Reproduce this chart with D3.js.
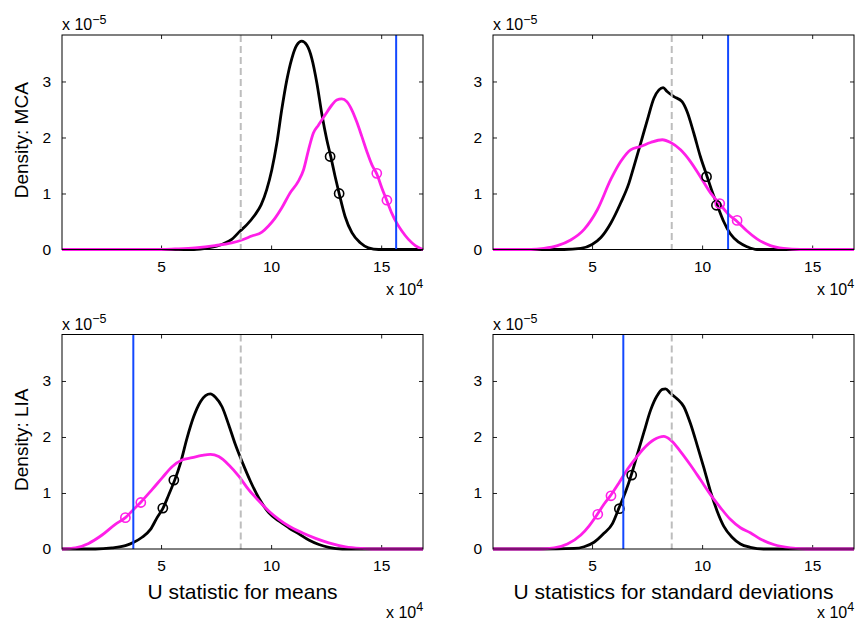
<!DOCTYPE html>
<html>
<head>
<meta charset="utf-8">
<script src="https://cdn.jsdelivr.net/npm/d3@7"></script>
<style>
  body { margin: 0; background: #fff; }
  svg text { font-family: "Liberation Sans", Arial, Helvetica, sans-serif; fill: #000; }
</style>
</head>
<body>
<script>
// values are in units of 1e4 (x) and 1e-5 (y)

var xTicks = [5, 10, 15]
var yTicks = [0, 1, 2, 3]
var xRange = [0.5, 16.9]
var yRange = [0, 3.83]

var yLabels = ['Density: MCA', 'Density: LIA']
var xLabels = ['U statistic for means', 'U statistics for standard deviations']

// null value (gray dashed) and observed value (blue) per panel
var nullValue = [8.62, 8.62, 8.62, 8.62]
var observed = [15.68, 11.18, 3.74, 6.42]

// MCA, means
var mcaMeanBlack = [[0.5,0],[6.5,0],[7.15,0.03],[7.76,0.09],[8.21,0.18],[8.59,0.33],[8.89,0.44],[9.27,0.62],[9.55,0.8],
  [9.8,1.07],[10.03,1.42],[10.26,1.9],[10.48,2.49],[10.71,3.02],[10.94,3.41],[11.17,3.65],[11.39,3.72],
  [11.62,3.65],[11.85,3.41],[12.08,2.97],[12.3,2.43],[12.53,1.96],[12.71,1.66],[12.91,1.3],[13.09,1.0],
  [13.36,0.59],[13.67,0.3],[14.05,0.12],[14.42,0.03],[14.88,0],[16.9,0]]
var mcaMeanPink = [[0.5,0],[5,0],[5.64,0.01],[6.55,0.03],[7.45,0.07],[8.21,0.12],[8.67,0.17],[9.12,0.24],[9.58,0.31],
  [9.88,0.42],[10.18,0.56],[10.48,0.74],[10.86,1.01],[11.24,1.22],[11.47,1.42],[11.7,1.78],[11.92,2.08],
  [12.15,2.22],[12.45,2.4],[12.76,2.58],[12.98,2.67],[13.21,2.69],[13.44,2.64],[13.67,2.49],[13.89,2.28],
  [14.12,2.02],[14.35,1.75],[14.58,1.51],[14.8,1.35],[15.03,1.1],[15.26,0.87],[15.48,0.65],[15.71,0.47],
  [15.94,0.33],[16.24,0.18],[16.55,0.07],[16.9,0]]
var mcaMeanBlackPts = [[12.68,1.66],[13.09,1.0]]
var mcaMeanPinkPts = [[14.8,1.36],[15.26,0.88]]

// MCA, standard deviations
var mcaSdBlack = [[0.5,0],[3.73,0],[4.49,0.02],[5.0,0.09],[5.39,0.21],[5.85,0.47],[6.3,0.83],[6.68,1.19],[6.9,1.48],
  [7.21,1.9],[7.51,2.31],[7.81,2.7],[8.04,2.85],[8.23,2.89],[8.41,2.82],[8.72,2.73],[9.09,2.64],[9.32,2.46],
  [9.62,2.08],[9.92,1.66],[10.23,1.3],[10.45,1.04],[10.68,0.8],[10.98,0.5],[11.28,0.28],[11.66,0.13],
  [12.04,0.05],[12.49,0],[16.9,0]]
var mcaSdPink = [[0.5,0],[2.22,0],[2.82,0.02],[3.43,0.07],[4.03,0.17],[4.64,0.36],[5.24,0.71],[5.85,1.25],[6.3,1.57],
  [6.75,1.78],[7.21,1.84],[7.66,1.91],[8.19,1.96],[8.57,1.91],[9.02,1.78],[9.47,1.57],[9.92,1.3],[10.38,1.01],
  [10.79,0.82],[11.21,0.62],[11.59,0.5],[12.04,0.33],[12.49,0.19],[13.1,0.07],[13.7,0.02],[14.46,0],[16.9,0]]
var mcaSdBlackPts = [[10.2,1.3],[10.65,0.79]]
var mcaSdPinkPts = [[10.8,0.82],[11.59,0.52]]

// LIA, means
var liaMeanBlack = [[0.5,0],[2.02,0],[2.77,0.02],[3.38,0.06],[3.76,0.12],[4.14,0.21],[4.52,0.35],[4.82,0.56],[5.09,0.73],
  [5.35,0.97],[5.62,1.23],[5.88,1.53],[6.18,1.98],[6.48,2.36],[6.79,2.63],[7.02,2.74],[7.24,2.77],[7.47,2.71],
  [7.77,2.54],[8.08,2.21],[8.38,1.86],[8.68,1.56],[9.06,1.21],[9.44,0.91],[9.89,0.65],[10.35,0.5],[10.8,0.38],
  [11.26,0.27],[11.71,0.16],[12.17,0.08],[12.62,0.03],[13.23,0],[16.9,0]]
var liaMeanPink = [[0.5,0],[1.11,0.02],[1.71,0.1],[2.32,0.25],[2.92,0.44],[3.38,0.56],[3.76,0.71],[4.09,0.84],[4.59,1.06],
  [5.05,1.27],[5.5,1.47],[5.95,1.59],[6.41,1.63],[6.86,1.67],[7.24,1.69],[7.62,1.65],[8.08,1.5],[8.53,1.3],
  [8.98,1.06],[9.44,0.86],[9.89,0.68],[10.35,0.53],[10.8,0.41],[11.41,0.29],[12.02,0.19],[12.62,0.11],
  [13.38,0.04],[14.14,0.01],[14.6,0],[16.9,0]]
var liaMeanBlackPts = [[5.08,0.73],[5.58,1.23]]
var liaMeanPinkPts = [[3.38,0.56],[4.08,0.83]]

// LIA, standard deviations
var liaSdBlack = [[0.5,0],[2.67,0],[4.18,0.01],[4.64,0.04],[5.09,0.12],[5.54,0.28],[5.92,0.45],[6.22,0.73],[6.53,1.03],
  [6.78,1.32],[7.05,1.68],[7.36,2.09],[7.66,2.48],[7.96,2.74],[8.19,2.85],[8.34,2.86],[8.56,2.78],[8.87,2.68],
  [9.17,2.54],[9.47,2.24],[9.77,1.86],[10.08,1.45],[10.38,1.03],[10.68,0.68],[10.98,0.41],[11.36,0.21],
  [11.74,0.09],[12.19,0.03],[12.79,0],[16.9,0]]
var liaSdPink = [[0.5,0],[2.67,0],[3.28,0.02],[3.88,0.09],[4.49,0.25],[4.86,0.41],[5.24,0.62],[5.54,0.8],[5.85,0.96],
  [6.22,1.18],[6.6,1.42],[6.98,1.62],[7.36,1.8],[7.81,1.95],[8.26,2.01],[8.56,1.95],[9.02,1.74],[9.47,1.5],
  [9.92,1.24],[10.38,0.97],[10.83,0.74],[11.28,0.53],[11.74,0.38],[12.19,0.29],[12.64,0.18],[13.25,0.08],
  [14.0,0.02],[14.76,0],[16.9,0]]
var liaSdBlackPts = [[6.24,0.72],[6.8,1.32]]
var liaSdPinkPts = [[5.26,0.62],[5.86,0.95]]


// panel table built from the arrays above
var panels = [
  {black: mcaMeanBlack, pink: mcaMeanPink, blackPts: mcaMeanBlackPts, pinkPts: mcaMeanPinkPts, row: 0, col: 0},
  {black: mcaSdBlack, pink: mcaSdPink, blackPts: mcaSdBlackPts, pinkPts: mcaSdPinkPts, row: 0, col: 1},
  {black: liaMeanBlack, pink: liaMeanPink, blackPts: liaMeanBlackPts, pinkPts: liaMeanPinkPts, row: 1, col: 0},
  {black: liaSdBlack, pink: liaSdPink, blackPts: liaSdBlackPts, pinkPts: liaSdPinkPts, row: 1, col: 1}
]

var pink = '#ff1fe8',
    blue = '#1348ff',
    gray = '#bdbdbd'

var lefts = [62, 493],
    tops = [35, 334.5],
    width = 361,
    height = 214.5

var svg = d3.select('body').append('svg')
  .attr('width', 860)
  .attr('height', 619)

var xScale = d3.scaleLinear().domain(xRange).range([0, width])
var yScale = d3.scaleLinear().domain(yRange).range([height, 0])

var lineGenerator = d3.line()
  .x(function(d) { return xScale(d[0]) })
  .y(function(d) { return yScale(d[1]) })
  .curve(d3.curveMonotoneX)

panels.forEach(function(p, i) {
  var g = svg.append('g')
    .attr('transform', 'translate(' + lefts[p.col] + ',' + tops[p.row] + ')')

  // ticks on all four sides, pointing inward
  g.append('g')
    .attr('transform', 'translate(0,' + height + ')')
    .call(d3.axisBottom(xScale).tickValues(xTicks).tickFormat(d3.format('d'))
      .tickSizeInner(-4).tickSizeOuter(0).tickPadding(11))
  g.append('g')
    .call(d3.axisTop(xScale).tickValues(xTicks).tickSizeInner(-4).tickSizeOuter(0).tickFormat(''))
  g.append('g')
    .call(d3.axisLeft(yScale).tickValues(yTicks).tickFormat(d3.format('d'))
      .tickSizeInner(-4).tickSizeOuter(0).tickPadding(11))
  g.append('g')
    .attr('transform', 'translate(' + width + ',0)')
    .call(d3.axisRight(yScale).tickValues(yTicks).tickSizeInner(-4).tickSizeOuter(0).tickFormat(''))

  g.selectAll('.domain').remove()
  g.selectAll('.tick line').attr('stroke', '#222')
  g.selectAll('.tick text')
    .attr('font-size', 15.5)

  // curves
  g.append('path')
    .datum(p.black)
    .attr('fill', 'none')
    .attr('stroke', '#000')
    .attr('stroke-width', 2.8)
    .attr('stroke-linejoin', 'round')
    .attr('d', lineGenerator)

  g.append('path')
    .datum(p.pink)
    .attr('fill', 'none')
    .attr('stroke', pink)
    .attr('stroke-width', 2.8)
    .attr('stroke-linejoin', 'round')
    .attr('d', lineGenerator)

  g.selectAll('.bpt')
    .data(p.blackPts)
    .enter().append('circle')
    .attr('cx', function(d) { return xScale(d[0]) })
    .attr('cy', function(d) { return yScale(d[1]) })
    .attr('r', 4.6)
    .attr('fill', 'none')
    .attr('stroke', '#000')
    .attr('stroke-width', 1.6)

  g.selectAll('.ppt')
    .data(p.pinkPts)
    .enter().append('circle')
    .attr('cx', function(d) { return xScale(d[0]) })
    .attr('cy', function(d) { return yScale(d[1]) })
    .attr('r', 4.6)
    .attr('fill', 'none')
    .attr('stroke', pink)
    .attr('stroke-width', 1.6)

  // reference lines
  g.append('line')
    .attr('x1', xScale(nullValue[i])).attr('x2', xScale(nullValue[i]))
    .attr('y1', 0).attr('y2', height)
    .attr('stroke', gray)
    .attr('stroke-width', 2)
    .attr('stroke-dasharray', '7,4')

  g.append('line')
    .attr('x1', xScale(observed[i])).attr('x2', xScale(observed[i]))
    .attr('y1', 0).attr('y2', height)
    .attr('stroke', blue)
    .attr('stroke-width', 2)

  // box
  g.append('rect')
    .attr('x', 0).attr('y', 0)
    .attr('width', width).attr('height', height)
    .attr('fill', 'none')
    .attr('stroke', '#000')
    .attr('stroke-width', 1)

  // exponent labels
  var ey = g.append('text')
    .attr('x', 0).attr('y', -5)
    .attr('font-size', 16)
    .text('x 10')
  ey.append('tspan')
    .attr('dy', -6.5)
    .attr('font-size', 12.5)
    .text('\u22125')

  var ex = g.append('text')
    .attr('x', width - 37).attr('y', p.row === 0 ? height + 45 : height + 68.5)
    .attr('font-size', 16)
    .text('x 10')
  ex.append('tspan')
    .attr('dy', -6.5)
    .attr('font-size', 12.5)
    .text('4')

  if (p.col === 0) {
    g.append('text')
      .attr('transform', 'translate(' + (28 - lefts[0]) + ',' + (height / 2 - 2) + ') rotate(-90)')
      .attr('text-anchor', 'middle')
      .attr('font-size', 19)
      .text(yLabels[p.row])
  }
  if (p.row === 1) {
    g.append('text')
      .attr('x', width / 2)
      .attr('y', height + 50)
      .attr('text-anchor', 'middle')
      .attr('font-size', 21)
      .text(xLabels[p.col])
  }
})
</script>
</body>
</html>
